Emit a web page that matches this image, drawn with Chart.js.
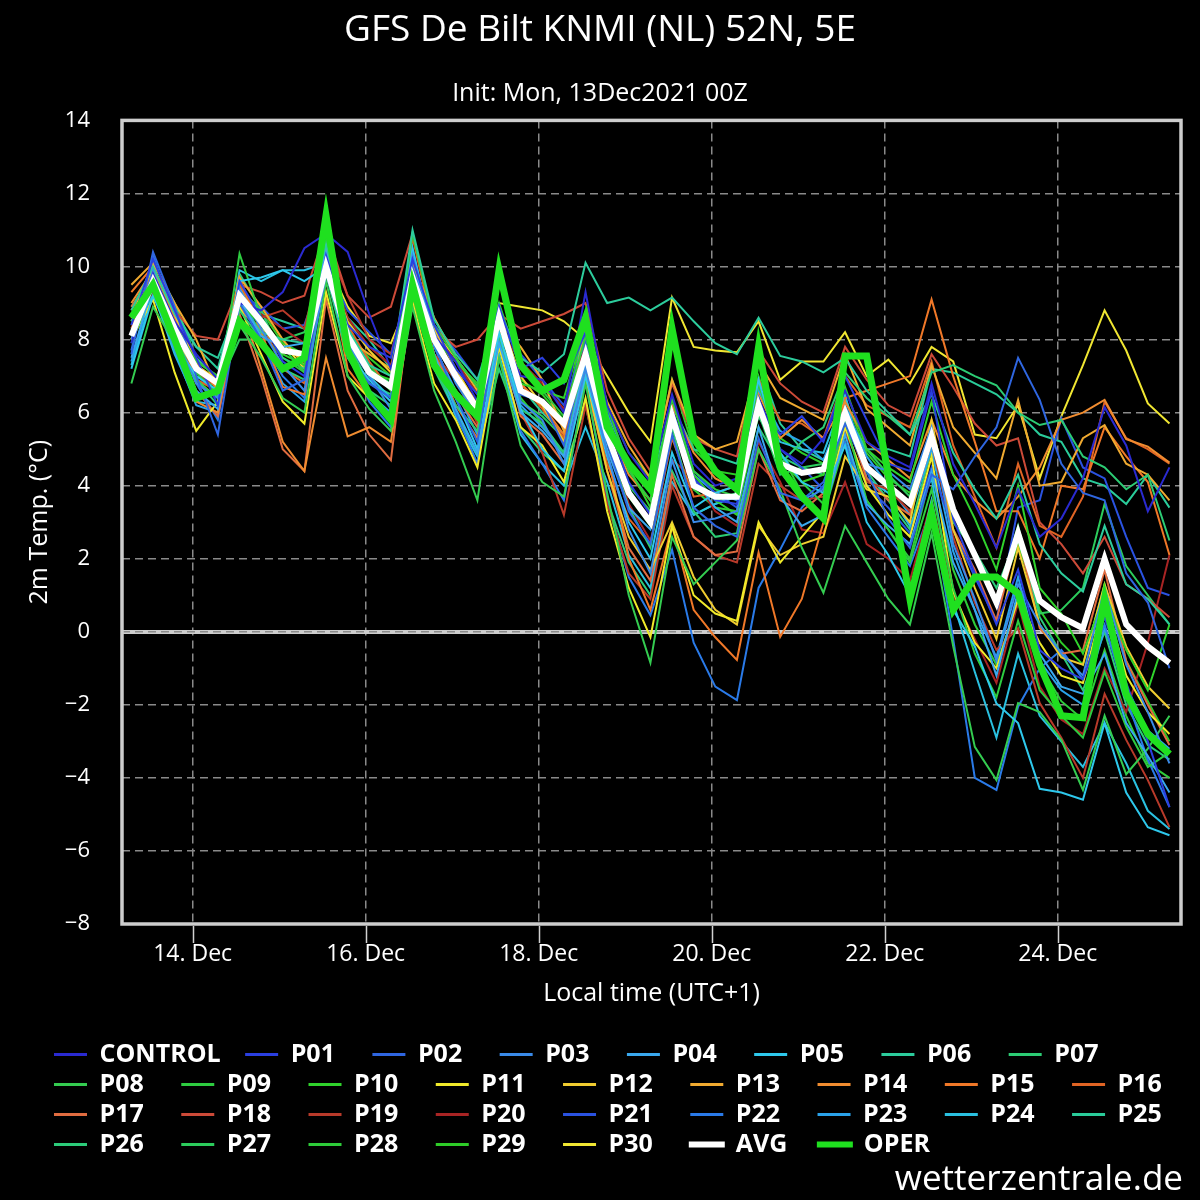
<!DOCTYPE html>
<html><head><meta charset="utf-8">
<script src="https://cdn.jsdelivr.net/npm/chart.js@4.4.0/dist/chart.umd.min.js"></script>
<style>html,body{margin:0;padding:0;background:#000;}canvas{display:block;}</style>
</head><body>
<canvas id="c" width="1200" height="1200"></canvas>
<script>
// ---- time axis: hours since 14 Dec 00:00 local (UTC+1), 6-hourly from 13 Dec 07:00 to 25 Dec 07:00
const hours = [-17,-11,-5,1,7,13,19,25,31,37,43,49,55,61,67,73,79,85,91,97,103,109,115,121,127,133,139,145,151,157,163,169,175,181,187,193,199,205,211,217,223,229,235,241,247,253,259,265,271];
const xTickHours = [0,48,96,144,192,240];
const xTickLabels = ['14. Dec','16. Dec','18. Dec','20. Dec','22. Dec','24. Dec'];
const yTickValues = [-8,-6,-4,-2,0,2,4,6,8,10,12,14];

const memberNames = ['CONTROL','P01','P02','P03','P04','P05','P06','P07','P08','P09','P10','P11','P12','P13','P14','P15','P16','P17','P18','P19','P20','P21','P22','P23','P24','P25','P26','P27','P28','P29','P30'];
const memberColors = ['#2a2ad0','#2a3fe0','#2f66e0','#3a8ae8','#3aa8ee','#2ec8ec','#2ccc9c','#2ccc74','#34cc50','#2ecc40','#30d22c','#f0ea2a','#f0cc30','#f0aa30','#f08c30','#f07828','#e06424','#e06c40','#cc4a38','#b83a2a','#a82424','#2a52e0','#2a7ae8','#2aa2ea','#2ac0e0','#2acc9a','#2ccc7a','#2ccc5c','#2ecc3a','#2ecc28','#f0e632'];

const CONTROL = [7.9,9.8,8.5,7.6,6.9, 9.0,8.8,9.3,10.5, 10.9,10.4,8.7,7.2, 9.6,8.1,7.4,6.3, 8.4,7.0,6.9,6.0, 9.3,6.2,4.9,4.1, 6.5,4.6,4.0,4.2, 6.4,5.0,4.6,5.3, 6.6,5.2,4.8,4.5, 6.8,4.6,3.5,2.3, 3.9,2.6,3.1,4.2, 6.15,5.1,3.3,4.5];
const P01 = [8.4,10.2,8.8,7.5,6.2, 9.6,8.6,7.4,7.0, 10.3,8.4,7.8,7.5, 10.2,8.4,7.2,6.5, 8.9,7.2,7.5,6.8, 8.2,5.8,4.1,3.2, 6.0,4.2,3.6,3.5, 6.1,5.4,5.9,5.2, 7.0,5.8,4.6,4.4, 6.6,3.1,1.6,0.2, 1.7,-0.5,-1.0,-1.3, 0.4,-1.4,-3.0,-4.8];
const P02 = [7.6,10.4,8.9,7.0,5.4, 9.0,8.0,6.6,6.9, 10.2,7.6,6.8,6.4, 10.0,7.9,6.4,5.2, 8.7,6.5,6.3,5.1, 7.8,5.2,3.3,2.4, 5.4,3.4,2.9,2.6, 5.3,3.8,3.6,4.1, 5.7,4.4,3.1,2.3, 4.3,3.9,4.8,5.6, 7.5,6.35,4.6,3.8, 3.6,1.6,0.8,-1.0];
const P03 = [8.0,9.9,8.1,6.8,6.4, 9.4,8.3,7.3,6.6, 9.8,7.9,7.0,6.1, 10.3,8.2,6.8,5.9, 8.9,6.3,5.8,4.6, 7.2,4.9,2.8,1.6, 4.7,3.0,3.1,3.3, 6.4,4.4,3.6,3.9, 5.9,4.6,4.4,3.9, 5.6,2.4,0.9,-0.8, 1.3,0.2,-0.6,-1.2, 1.2,-0.9,-2.2,-3.6];
const P04 = [7.5,9.5,7.8,6.6,6.1, 9.1,8.1,7.8,7.9, 10.4,7.8,6.6,5.8, 9.4,7.6,6.1,4.9, 7.9,6.0,5.5,4.8, 7.4,5.0,3.4,2.8, 5.9,4.2,3.4,3.0, 5.6,3.7,2.9,3.2, 5.4,3.5,2.9,2.4, 4.4,1.9,0.6,-1.2, 1.1,-0.6,-1.5,-1.7, -0.6,-2.5,-3.4,-4.4];
const P05 = [7.2,9.2,7.9,7.0,6.6, 9.6,9.7,9.9,9.6, 10.0,7.6,6.9,6.3, 10.5,7.9,6.4,5.0, 8.2,6.1,5.0,4.4, 7.0,4.8,3.0,2.0, 4.9,3.4,3.8,4.0, 6.9,4.9,4.1,3.8, 5.1,3.0,2.1,1.0, 3.6,0.6,-0.4,-1.96, -2.5,-4.3,-4.4,-4.6, -2.5,-4.4,-5.35,-5.57];
const P06 = [8.8,10.0,8.7,7.8,7.5, 9.0,8.2,8.0,7.9, 10.6,8.3,7.3,7.0, 11.0,8.55,7.6,6.9, 8.8,7.5,7.1,7.6, 10.1,9.0,9.15,8.8, 9.15,8.5,7.9,7.6, 8.6,7.55,7.4,7.1, 7.5,6.6,6.0,5.4, 6.5,4.9,3.9,3.1, 4.3,2.4,1.6,1.1, 2.9,1.3,0.9,0.2];
const P07 = [8.5,9.5,8.0,6.9,6.2, 8.8,8.0,7.2,6.9, 9.8,7.5,6.6,6.2, 9.3,7.2,6.2,5.5, 8.1,6.1,5.7,4.9, 7.5,5.2,3.4,2.3, 5.6,3.3,2.6,2.7, 5.6,4.6,5.2,5.6, 7.1,6.4,5.9,5.4, 7.1,7.3,7.0,6.75, 6.0,5.66,5.8,4.8, 4.5,3.9,4.3,2.5];
const P08 = [6.8,8.9,7.9,6.9,6.4, 8.4,7.5,6.4,6.0, 9.6,7.0,6.1,5.5, 8.9,6.6,5.2,3.6, 7.5,5.1,4.1,3.7, 6.8,3.8,1.0,-0.85, 2.6,1.3,1.9,2.5, 5.0,3.9,2.3,1.07, 2.9,1.9,0.9,0.2, 2.7,-0.4,-3.15,-4.06, -1.95,-2.2,-2.96,-4.33, -2.3,-3.9,-3.2,-2.3];
const P09 = [7.9,9.4,8.2,7.1,6.5, 10.35,8.6,7.8,7.1, 10.8,8.2,7.2,6.6, 10.9,8.4,7.5,6.7, 9.0,7.2,6.6,5.9, 8.1,5.9,4.4,3.6, 6.4,4.4,3.9,3.7, 6.8,4.9,4.1,3.5, 5.8,3.6,2.8,1.9, 3.9,1.2,-0.6,-1.8, 0.3,-1.6,-2.3,-2.9, -1.1,-2.6,-3.7,-3.3];
const P10 = [8.2,9.6,8.4,7.4,7.0, 9.0,8.4,7.6,7.3, 10.1,8.0,7.1,6.9, 9.4,8.0,7.4,6.8, 8.2,6.8,6.6,6.4, 8.4,6.2,4.5,3.4, 6.4,4.3,3.6,3.2, 6.0,4.7,4.1,4.3, 6.7,5.0,4.5,4.1, 6.3,4.3,3.1,1.7, 4.0,1.2,0.5,-0.6, 1.0,-0.5,-1.6,0.2];
const P11 = [8.0,9.1,7.1,5.5,6.3, 8.9,7.6,6.3,5.7, 9.3,7.0,6.4,5.8, 9.0,6.8,5.8,4.5, 7.8,5.6,5.1,4.1, 6.4,3.3,1.2,-0.15, 2.9,1.0,0.5,0.3, 3.0,1.9,2.6,3.3, 5.6,4.0,3.2,2.6, 4.8,1.1,-0.3,-1.0, 0.9,-0.3,-1.2,-1.4, 0.9,-1.2,-2.2,-2.8];
const P12 = [8.6,10.0,8.7,7.3,6.9, 9.4,8.4,7.7,7.5, 10.0,8.5,7.7,7.1, 9.8,8.3,7.2,6.2, 8.6,7.0,6.2,5.2, 7.0,4.4,2.6,1.7, 3.0,1.5,0.6,0.2, 2.9,2.1,2.4,2.6, 4.8,3.9,3.7,3.0, 5.8,2.8,1.2,-0.2, 2.3,0.2,-0.7,-0.9, 1.3,-0.4,-1.5,-2.1];
const P13 = [9.5,10.1,9.0,8.0,6.6, 9.7,8.9,8.0,7.3, 10.4,8.0,7.6,7.2, 10.1,8.6,7.5,6.6, 8.5,7.8,6.9,5.5, 8.3,6.3,5.1,4.2, 6.9,5.4,5.0,5.2, 7.4,6.4,6.1,5.8, 7.6,6.1,5.6,5.1, 7.3,5.6,4.9,4.2, 6.35,4.0,4.1,5.3, 5.66,4.6,4.3,3.6];
const P14 = [9.0,9.9,8.3,6.3,6.0, 9.1,7.2,5.2,4.4, 7.5,5.35,5.6,5.2, 9.1,7.4,6.6,5.9, 8.5,6.6,6.2,5.6, 7.3,5.6,4.3,3.6, 6.2,4.9,4.2,3.9, 6.5,5.3,5.8,5.3, 6.3,5.2,4.7,4.2, 5.8,4.3,3.6,3.1, 3.7,4.5,5.8,6.0, 6.35,5.27,5.07,4.63];
const P15 = [9.3,10.0,8.6,7.4,6.6, 9.7,8.2,6.7,6.5, 10.3,7.2,6.4,5.8, 9.7,7.6,6.2,5.3, 8.6,6.8,6.2,5.4, 7.2,4.9,2.0,0.6, 2.9,0.6,-0.15,-0.77, 2.17,-0.14,0.9,3.0, 6.4,6.6,6.8,7.0, 9.1,7.0,5.2,3.3, 3.3,2.0,4.0,3.9, 5.6,4.8,4.1,2.1];
const P16 = [8.8,9.8,8.4,6.9,6.6, 9.5,8.5,7.2,6.8, 10.6,8.4,7.4,6.6, 10.8,8.2,7.0,6.3, 8.8,6.8,6.1,5.3, 7.0,4.6,3.1,2.4, 5.3,3.7,3.8,4.0, 6.9,5.8,5.7,5.3, 7.0,6.2,5.9,5.6, 7.4,5.1,3.7,2.3, 4.6,2.9,2.6,3.7, 6.3,5.3,5.0,4.6];
const P17 = [8.9,9.7,8.0,6.6,5.9, 8.7,7.0,5.0,4.4, 9.1,6.6,5.4,4.7, 9.5,7.6,6.5,5.6, 8.2,5.9,5.4,4.6, 6.9,4.4,2.3,1.4, 4.3,2.6,2.1,2.2, 5.0,3.6,3.3,3.8, 5.9,4.2,3.6,3.2, 5.3,2.8,1.7,0.3, 2.7,0.1,-0.6,-0.5, 1.7,-0.8,-2.0,-3.1];
const P18 = [8.3,9.9,8.8,8.1,8.0, 9.5,9.3,9.0,9.2, 11.0,9.2,8.6,8.9, 10.9,8.3,7.8,8.0, 8.7,8.3,8.5,8.7, 9.0,6.6,5.3,4.4, 6.8,5.3,5.0,4.8, 7.7,6.8,6.3,6.0, 7.8,6.9,6.2,5.9, 7.6,6.7,5.7,5.1, 5.3,3.0,2.4,1.6, 2.6,1.3,0.9,0.4];
const P19 = [8.0,9.6,8.2,7.1,6.7, 9.3,8.6,8.8,8.3, 10.7,9.2,8.0,7.6, 9.9,7.6,6.9,5.7, 7.8,6.0,4.9,3.2, 6.2,3.5,1.6,0.9, 4.0,2.6,2.1,1.9, 4.6,4.0,3.6,3.7, 5.5,4.1,3.9,3.3, 5.2,2.6,0.8,-0.5, 0.1,-1.95,-2.9,-4.0, -1.7,-2.96,-4.06,-5.35];
const P20 = [8.4,9.3,8.0,6.9,6.6, 9.0,8.7,8.3,7.9, 10.2,8.6,7.8,7.3, 9.5,8.2,7.4,6.5, 8.3,7.4,6.8,6.1, 7.8,5.6,3.5,2.5, 4.7,4.2,3.3,2.9, 5.2,4.1,2.8,2.7, 4.1,2.4,2.0,1.4, 3.6,1.0,-0.2,-1.4, 0.8,-1.5,-2.4,-2.8, -1.0,-2.2,-0.3,2.1];
const P21 = [8.1,9.7,8.5,7.4,7.0, 9.2,8.9,8.3,8.4, 10.1,8.8,8.2,7.6, 9.8,8.4,7.7,6.9, 8.4,7.6,6.9,6.2, 8.0,6.1,4.6,3.8, 6.1,4.4,3.8,3.4, 6.3,5.0,4.5,3.9, 5.6,4.0,3.4,2.7, 4.5,2.8,1.5,0.3, 3.4,3.6,5.85,4.5, 4.2,2.6,1.2,1.0];
const P22 = [7.7,10.3,8.6,6.8,5.8, 9.3,8.0,7.0,6.4, 10.1,7.7,6.3,5.6, 10.5,7.9,6.0,4.6, 8.0,5.5,4.6,3.6, 6.9,3.6,1.5,0.45, 2.25,-0.3,-1.5,-1.87, 1.2,2.25,3.4,4.0, 5.2,3.4,2.6,1.8, 3.4,-0.2,-4.0,-4.33, -2.05,-1.0,-0.5,-1.3, 0.2,-1.8,-3.5,-4.8];
const P23 = [7.4,9.5,7.7,6.2,6.0, 9.4,8.0,6.8,6.3, 10.5,7.9,6.5,6.0, 10.2,7.8,6.6,5.4, 8.6,6.2,5.6,4.9, 8.0,5.5,3.9,3.0, 6.0,4.3,3.8,3.6, 6.6,5.5,5.2,4.7, 6.2,4.8,4.0,3.2, 5.0,2.2,0.6,-0.7, 1.5,-0.8,-1.6,-2.0, 0.1,-1.5,-2.7,-3.2];
const P24 = [7.3,9.3,7.6,6.3,6.2, 9.9,9.6,9.9,9.9, 10.1,8.0,7.0,6.4, 10.0,7.5,5.9,4.8, 7.6,5.4,4.6,4.0, 5.6,4.1,2.1,1.2, 4.1,3.2,3.5,3.7, 6.1,5.2,5.0,4.9, 6.5,4.2,3.8,2.9, 4.2,0.8,-1.1,-2.9, -0.6,-2.3,-3.0,-3.7, -2.5,-3.6,-4.9,-5.4];
const P25 = [8.9,9.8,8.8,7.8,7.2, 9.5,8.7,8.5,8.3, 10.2,8.6,8.0,7.2, 10.3,8.0,7.1,6.0, 8.0,6.7,6.0,5.4, 8.5,6.0,4.6,4.0, 6.2,5.0,4.8,4.6, 7.4,5.7,5.0,4.7, 6.0,5.0,5.0,4.8, 7.2,7.1,6.8,6.5, 6.0,5.4,5.2,4.2, 4.0,3.5,4.3,3.4];
const P26 = [8.6,10.1,9.0,7.5,6.9, 9.8,8.8,7.5,7.2, 10.1,7.9,6.8,6.5, 9.1,7.2,6.0,4.9, 7.2,5.6,4.9,4.4, 6.2,3.6,1.9,1.0, 4.4,3.2,3.5,3.8, 5.9,4.8,4.5,4.3, 6.1,4.4,3.6,2.8, 5.0,3.0,2.2,1.2, 2.6,0.4,-0.6,-1.6, 0.0,-2.0,-3.1,-3.5];
const P27 = [8.3,9.4,8.0,7.0,6.7, 8.0,8.0,8.0,8.2, 10.0,8.1,7.2,6.8, 9.2,7.6,6.6,5.8, 8.0,6.3,5.9,5.3, 7.3,5.2,4.0,3.3, 5.7,4.1,3.6,3.8, 6.0,4.3,4.5,4.6, 5.7,5.0,4.3,3.7, 5.6,3.4,2.1,0.9, 2.9,0.5,0.6,1.2, 3.5,1.8,1.0,0.2];
const P28 = [8.1,9.9,8.6,7.3,6.4, 9.1,8.2,7.5,7.1, 10.3,8.3,7.3,6.7, 9.7,8.0,6.9,5.8, 8.5,6.4,5.7,4.8, 7.9,5.4,3.7,2.9, 5.8,3.9,3.4,3.3, 6.7,4.9,3.8,3.2, 5.2,3.6,2.8,2.0, 4.4,1.7,0.2,-0.9, 0.8,-0.9,-1.9,-2.4, -0.5,-2.3,-3.6,-4.0];
const P29 = [8.5,9.6,8.3,7.1,6.9, 9.4,8.8,7.9,7.6, 10.1,8.2,7.5,7.0, 9.9,8.0,7.0,6.2, 8.8,6.9,6.5,5.8, 8.6,6.2,4.9,4.2, 6.9,5.0,4.4,4.3, 7.0,5.3,4.9,4.6, 6.4,4.9,4.2,3.8, 5.4,3.3,2.0,0.8, 2.4,0.6,-0.3,-0.9, 1.3,-0.8,-1.9,-3.0];
const P30 = [8.0,10.0,8.3,6.8,6.8, 8.8,8.3,7.9,7.2, 10.2,8.9,8.1,7.9, 9.3,8.2,7.5,6.7, 9.0,8.9,8.8,8.5, 8.0,7.0,6.0,5.2, 9.15,7.8,7.7,7.65, 8.5,6.9,7.4,7.4, 8.2,7.0,7.45,6.8, 7.8,7.4,5.4,5.3, 6.2,4.2,5.9,7.3, 8.8,7.7,6.25,5.7];

const AVG = [8.1,9.6,8.3,7.2,6.8, 9.2,8.5,7.7,7.6, 10.0,8.1,7.1,6.7, 9.7,8.0,7.0,6.1, 8.6,6.6,6.3,5.7, 7.6,5.4,3.8,3.0, 5.9,4.0,3.7,3.7, 6.2,4.6,4.35,4.45, 6.0,4.5,4.0,3.5, 5.35,3.35,2.1,0.8, 2.7,0.85,0.4,0.1, 2.0,0.2,-0.4,-0.85];
const OPER = [8.6,9.5,8.0,6.4,6.6, 8.5,7.9,7.2,7.5, 11.4,7.7,6.5,5.8, 9.5,7.3,6.5,5.9, 9.9,7.3,6.6,6.9, 8.6,5.6,4.6,3.9, 8.3,5.3,4.4,3.9, 7.8,4.5,3.7,3.1, 7.55,7.55,4.3,0.9, 3.25,0.6,1.5,1.5, 1.05,-0.9,-2.3,-2.35, 0.9,-1.7,-2.8,-3.35];

const members = [CONTROL,P01,P02,P03,P04,P05,P06,P07,P08,P09,P10,P11,P12,P13,P14,P15,P16,P17,P18,P19,P20,P21,P22,P23,P24,P25,P26,P27,P28,P29,P30];

// ---- build datasets
const FONT = "'Open Sans', sans-serif";
const toPoints = vals => vals.map((v, i) => ({x: hours[i], y: v}));
const datasets = members.map((vals, k) => ({
  label: memberNames[k], data: toPoints(vals), borderColor: memberColors[k], backgroundColor: memberColors[k],
  borderWidth: 2, pointRadius: 0, tension: 0, fill: false, order: 2
}));
datasets.push({label: 'AVG', data: toPoints(AVG), borderColor: '#ffffff', backgroundColor: '#ffffff', borderWidth: 6, pointRadius: 0, tension: 0, fill: false, order: 1});
datasets.push({label: 'OPER', data: toPoints(OPER), borderColor: '#1fe01f', backgroundColor: '#1fe01f', borderWidth: 7, pointRadius: 0, tension: 0, fill: false, order: 0});

// ---- legend column layout (pad label text so items fall on a regular grid)
const LEG_SIZE = 25;
const measureCtx = document.createElement('canvas').getContext('2d');
measureCtx.font = "bold " + LEG_SIZE + "px 'Open Sans', sans-serif";
const BOXW = 33, LPAD = 5, HALF = LEG_SIZE / 2;
const rowEnds = new Set(['P07','P16','P25','OPER']);
function padLabel(text) {
  if (rowEnds.has(text)) return text;
  const slot = text === 'CONTROL' ? 190 : 125.4;
  const target = slot - BOXW - HALF - LPAD;
  let s = text;
  const sp = measureCtx.measureText(' ').width;
  while (measureCtx.measureText(s).width + sp / 2 < target) s += ' ';
  return s;
}

const decor = {
  id: 'decor',
  beforeDraw(chart) {
    const c = chart.ctx; c.save(); c.fillStyle = '#000'; c.fillRect(0, 0, chart.width, chart.height); c.restore();
  },
  afterLayout(chart) {
    if (chart.legend) { chart.legend.left = 49; }
  },
  beforeDatasetsDraw(chart) {
    const {ctx, chartArea, scales} = chart; const py = scales.y.getPixelForValue(0);
    ctx.save(); ctx.strokeStyle = '#8a8a8a'; ctx.lineWidth = 1.5; ctx.setLineDash([8, 5]);
    ctx.beginPath(); ctx.moveTo(chartArea.left, py); ctx.lineTo(chartArea.right, py); ctx.stroke(); ctx.restore();
  },
  afterDatasetsDraw(chart) {
    const {ctx, chartArea: a} = chart;
    ctx.save(); ctx.strokeStyle = '#cdcdcd'; ctx.lineWidth = 3.5;
    ctx.strokeRect(a.left, a.top, a.right - a.left, a.bottom - a.top);
    // small tick marks below the x axis at the labelled days
    const xs = chart.scales.x; ctx.lineWidth = 1.5; ctx.strokeStyle = '#d0d0d0';
    xTickHours.forEach(h => { const px = Math.round(xs.getPixelForValue(h)) + 0.5; ctx.beginPath(); ctx.moveTo(px, a.bottom + 2); ctx.lineTo(px, a.bottom + 19); ctx.stroke(); });
    ctx.restore();
  },
  afterDraw(chart) {
    const ctx = chart.ctx; ctx.save(); ctx.fillStyle = '#ffffff'; ctx.font = "35px 'Open Sans', sans-serif";
    ctx.textAlign = 'right'; ctx.textBaseline = 'alphabetic'; ctx.fillText('wetterzentrale.de', 1183, 1190); ctx.restore();
  }
};

Chart.defaults.font.family = FONT;
new Chart(document.getElementById('c'), {
  type: 'line',
  data: {datasets},
  plugins: [decor],
  options: {
    responsive: false, devicePixelRatio: 1, animation: false, events: [],
    layout: {padding: {left: 19, right: 19, top: 0, bottom: 33}},
    plugins: {
      title: {display: true, text: 'GFS De Bilt KNMI (NL) 52N, 5E', color: '#ffffff', font: {family: FONT, size: 37, weight: 'normal'}, padding: {top: 8, bottom: 26}},
      subtitle: {display: true, text: 'Init: Mon, 13Dec2021 00Z', color: '#ffffff', font: {family: FONT, size: 25, weight: 'normal'}, padding: {top: 0, bottom: 12}},
      legend: {
        position: 'bottom', align: 'start', onClick: null,
        labels: {
          color: '#ffffff', font: {family: FONT, size: LEG_SIZE, weight: 'bold'}, boxWidth: BOXW, boxHeight: 3, padding: LPAD,
          generateLabels: chart => chart.data.datasets.map((ds, i) => ({
            text: padLabel(ds.label), fillStyle: ds.borderColor, strokeStyle: ds.borderColor,
            lineWidth: (ds.label === 'AVG' || ds.label === 'OPER') ? 3 : 0, hidden: false, datasetIndex: i, fontColor: '#ffffff'
          }))
        }
      },
      tooltip: {enabled: false}
    },
    scales: {
      x: {
        type: 'linear', min: -19.6, max: 274.2,
        afterBuildTicks: s => { s.ticks = xTickHours.map(v => ({value: v})); },
        afterFit: s => { s.height = 113; },
        grid: {color: '#8a8a8a', lineWidth: 1.5, drawTicks: false},
        border: {display: false, dash: [8, 5]},
        ticks: {color: '#ffffff', font: {size: 23}, padding: 17, autoSkip: false, maxRotation: 0, callback: (v, i) => xTickLabels[i]},
        title: {display: true, text: 'Local time (UTC+1)', color: '#ffffff', font: {size: 25}, padding: {top: 0, bottom: 28}}
      },
      y: {
        type: 'linear', min: -8, max: 14,
        afterBuildTicks: s => { s.ticks = yTickValues.map(v => ({value: v})); },
        afterFit: s => { s.width = 103; },
        grid: {
          color: c => (c.tick && c.tick.value === 0) ? '#cdcdcd' : '#8a8a8a',
          lineWidth: c => (c.tick && c.tick.value === 0) ? 4 : 1.5,
          drawTicks: false
        },
        border: {display: false, dash: c => (c.tick && c.tick.value === 0) ? [] : [8, 5]},
        ticks: {color: '#ffffff', font: {size: 22}, padding: 32, callback: v => v < 0 ? '\u2212' + Math.abs(v) : String(v)},
        title: {display: true, text: '2m Temp. (\u00B0C)', color: '#ffffff', font: {size: 25}, padding: {top: 6, bottom: 0}}
      }
    }
  }
});
</script>
</body></html>
